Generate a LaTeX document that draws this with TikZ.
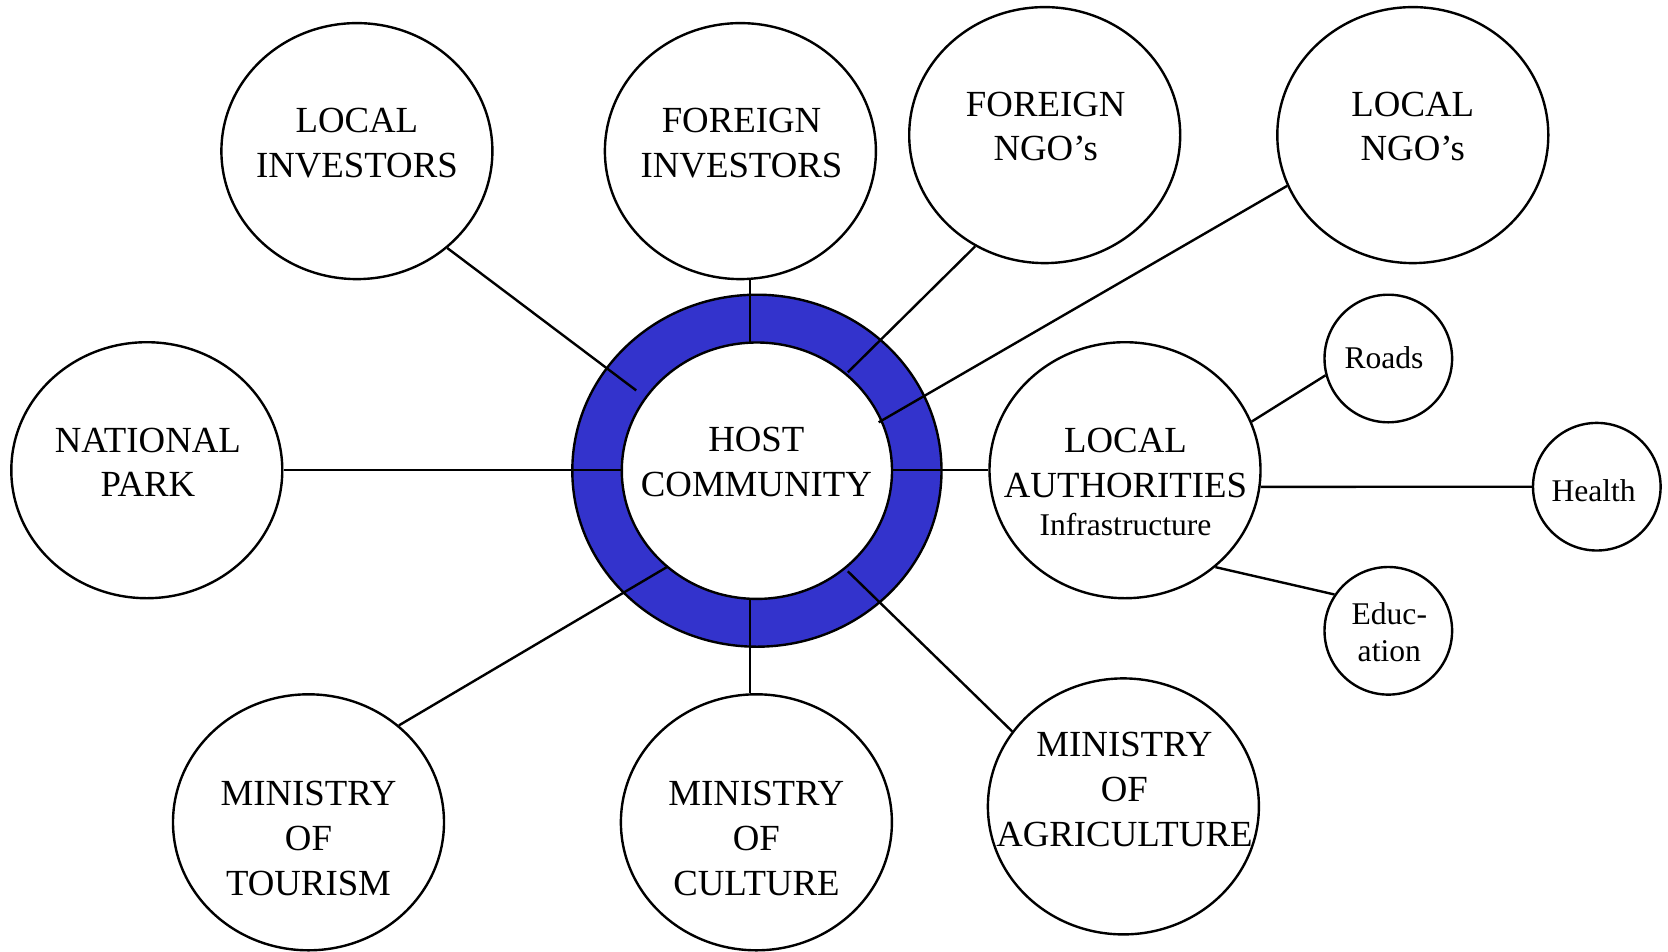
\documentclass[tikz,border=0pt]{standalone}
\usepackage{fontspec}
\setmainfont{Liberation Serif}
\usetikzlibrary{shapes.geometric}
\definecolor{ringblue}{RGB}{51,51,204}
\begin{document}
\begin{tikzpicture}[x=1pt,y=-1pt, line width=2.4pt,
  bub/.style={draw, ellipse, minimum width=271pt, minimum height=256pt, inner sep=0pt},
  minor/.style={draw, circle, minimum size=127.6pt, inner sep=0pt},
  big/.style={font=\fontsize{36.8}{44.7}\selectfont, align=center, inner sep=0pt},
  lit/.style={font=\fontsize{31.6}{37}\selectfont, align=center, inner sep=0pt},
  link/.style={draw, line width=2.4pt}]
\useasboundingbox (0,0) rectangle (1668,951);

% central ring
\node[draw, ellipse, fill=ringblue, minimum width=369.2pt, minimum height=352pt, inner sep=0pt] (ring) at (756.9,470.7) {};
\node[draw, ellipse, fill=white, minimum width=270.2pt, minimum height=256.4pt, inner sep=0pt] (host) at (756.9,470.7) {};
\node[big] (hostt) at (756.4,462.2) {HOST\\COMMUNITY};

% outer bubbles
\node[bub] (li) at (356.9,151.1) {};
\node[big] (lit) at (356.9,143.1) {LOCAL\\INVESTORS};
\node[bub] (fi) at (740.4,151.1) {};
\node[big] (fit) at (741.5,143.1) {FOREIGN\\INVESTORS};
\node[bub] (fn) at (1044.7,135.1) {};
\node[big] (fnt) at (1045.7,126.6) {FOREIGN\\NGO’s};
\node[bub] (ln) at (1412.8,135.1) {};
\node[big] (lnt) at (1412.8,126.6) {LOCAL\\NGO’s};
\node[bub] (np) at (146.8,470.2) {};
\node[big] (npt) at (147.9,462.2) {NATIONAL\\PARK};
\node[bub] (la) at (1125,470.2) {};
\node[big] (lat) at (1125.5,482.3) {LOCAL\\AUTHORITIES\\[-6.4pt]{\fontsize{31.6}{37}\selectfont Infrastructure}};
\node[bub] (mt) at (308.5,822.3) {};
\node[big] (mtt) at (308.5,838.3) {MINISTRY\\OF\\TOURISM};
\node[bub] (mc) at (756.4,822.3) {};
\node[big] (mct) at (756.4,838.3) {MINISTRY\\OF\\CULTURE};
\node[bub] (ma) at (1123.4,806.4) {};
\node[big] (mat) at (1124.4,789.3) {MINISTRY\\OF\\AGRICULTURE};

% small bubbles
\node[minor] (roads) at (1388.3,358.5) {};
\node[lit] (roadst) at (1384,357.4) {Roads};
\node[minor] (health) at (1596.8,486.7) {};
\node[lit] (healtht) at (1593.6,491) {Health};
\node[minor] (edu) at (1388.3,630.8) {};
\node[lit] (edut) at (1389.3,631.9) {Educ-\\ation};

% connector ends inside the ring
\coordinate (h1) at (636.2,390.4);
\coordinate (h2) at (750,342.5);
\coordinate (h3) at (847.8,372.3);
\coordinate (h4) at (878.7,422.3);
\coordinate (h5) at (621.8,470.2);
\coordinate (h6) at (892,470.2);
\coordinate (h7) at (667,567);
\coordinate (h8) at (750,598.9);
\coordinate (h9) at (847.8,571.3);

% connectors
\draw[link] (li.-47.4) -- (h1);
\draw[link] (h2 |- fi.south) -- (h2);
\draw[link] (fn.-122.7) -- (h3);
\draw[link] (ln.-158.3) -- (h4);
\draw[link] (np.east) -- (h5);
\draw[link] (h6) -- (la.west);
\draw[link] (mt.47.3) -- (h7);
\draw[link] (h8 |- mc.north) -- (h8);
\draw[link] (ma.146.5) -- (h9);
\draw[link] (la.21.5) -- (roads.-165.3);
\draw[link] (la.-7) -- (health.west);
\draw[link] (la.-47.4) -- (edu.146);
\end{tikzpicture}
\end{document}
